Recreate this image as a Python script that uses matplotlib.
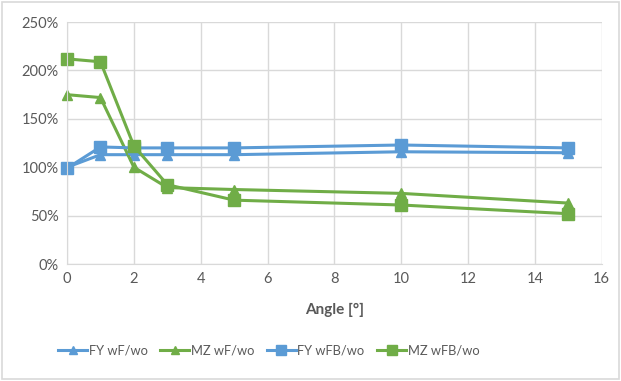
import matplotlib.pyplot as plt
from matplotlib.ticker import PercentFormatter
from matplotlib.patches import Rectangle

# data
angle = [0, 1, 2, 3, 5, 10, 15]
fy_wf = [100, 113, 113, 113, 113, 116, 115]
mz_wf = [175, 172, 100, 79, 77, 73, 63]
fy_wfb = [99, 121, 120, 120, 120, 123, 120]
mz_wfb = [212, 209, 122, 82, 66, 61, 52]

blue = '#5B9BD5'
green = '#70AD47'
gray = '#595959'

plt.rcParams['font.family'] = ['Lato', 'DejaVu Sans']

fig = plt.figure(figsize=(6.21, 3.81), dpi=100)
ax = fig.add_axes([0.108, 0.307, 0.861, 0.635])

ax.plot(angle, fy_wf, color=blue, lw=2.2, marker='^', ms=7, label='FY wF/wo', clip_on=False)
ax.plot(angle, mz_wf, color=green, lw=2.2, marker='^', ms=7, label='MZ wF/wo', clip_on=False)
ax.plot(angle, fy_wfb, color=blue, lw=2.2, marker='s', ms=8.5, label='FY wFB/wo', clip_on=False)
ax.plot(angle, mz_wfb, color=green, lw=2.2, marker='s', ms=8.5, label='MZ wFB/wo', clip_on=False)

ax.set_xlim(0, 16)
ax.set_ylim(0, 250)
ax.set_xticks(range(0, 17, 2))
ax.set_yticks(range(0, 251, 50))
ax.yaxis.set_major_formatter(PercentFormatter(decimals=0))
ax.grid(True, color='#D9D9D9', lw=1)
ax.set_axisbelow(True)
for side in ['top', 'right']:
    ax.spines[side].set_visible(False)
for side in ['left', 'bottom']:
    ax.spines[side].set_color('#D9D9D9')
ax.tick_params(length=0, labelsize=10.5, colors=gray, pad=6)

ax.set_xlabel('Angle [°]', fontsize=11, fontweight='bold', color=gray, labelpad=12)

fig.legend(loc='center', bbox_to_anchor=(0.433, 0.081), ncol=4, frameon=False,
           fontsize=9.3, labelcolor=gray, handlelength=2.2, columnspacing=1.0,
           handletextpad=0.15, markerscale=0.8)

# light outer border
fig.patches.append(Rectangle((0.003, 0.004), 0.994, 0.992, transform=fig.transFigure,
                             fill=False, edgecolor='#D9D9D9', lw=1.2))

fig.savefig('out.png', dpi=100)
